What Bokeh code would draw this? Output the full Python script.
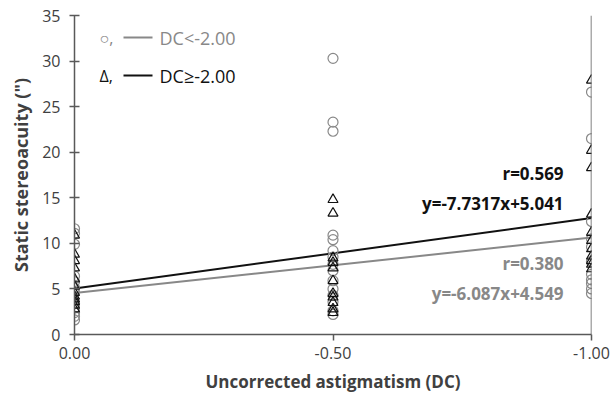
from bokeh.plotting import figure
from bokeh.models import Range1d, FixedTicker, Label, Span, BoxAnnotation
from bokeh.embed import file_html
from bokeh.resources import INLINE

# ---- data ----
x_positions = [0.0, -0.5, -1.0]
x_tick_labels = ["0.00", "-0.50", "-1.00"]
y_ticks = [0, 5, 10, 15, 20, 25, 30, 35]

# DC < -2.00 (circles)
low_at_000 = [11.6, 11.1, 9.9, 6.4, 5.8, 5.1, 4.6, 3.4, 2.9, 2.4, 2.0, 1.6]
low_at_050 = [30.3, 23.3, 22.3, 10.9, 10.4, 9.2, 8.5, 7.7, 7.0, 5.9, 5.0, 4.3, 3.6, 2.6, 2.2]
low_at_100 = [26.6, 21.5, 12.4, 10.5, 9.6, 8.0, 6.6, 6.0, 5.6, 5.0, 4.5]

# DC >= -2.00 (triangles)
high_at_000 = [10.9, 8.8, 8.1, 7.3, 6.1, 5.3, 4.6, 4.2, 3.9, 3.6, 3.2, 2.8]
high_at_050 = [14.8, 13.3, 8.4, 7.9, 7.3, 5.9, 4.5, 4.1, 3.5, 2.8, 2.4]
high_at_100 = [27.9, 20.2, 18.3, 13.2, 11.2, 10.3, 9.4, 8.6, 8.1, 7.7, 7.2]

low_slope, low_intercept, low_r = -6.087, 4.549, 0.380
high_slope, high_intercept, high_r = -7.7317, 5.041, 0.569

GRAY = "#888888"
BLACK = "#111111"
AXIS = "#595959"
FONT = "Open Sans"

low_x = [x_positions[0]] * len(low_at_000) + [x_positions[1]] * len(low_at_050) + [x_positions[2]] * len(low_at_100)
low_y = low_at_000 + low_at_050 + low_at_100
high_x = [x_positions[0]] * len(high_at_000) + [x_positions[1]] * len(high_at_050) + [x_positions[2]] * len(high_at_100)
high_y = high_at_000 + high_at_050 + high_at_100

line_x = [x_positions[0], x_positions[-1]]
low_line_y = [low_slope * v + low_intercept for v in line_x]
high_line_y = [high_slope * v + high_intercept for v in line_x]

p = figure(width=613, height=398, output_backend="svg", toolbar_location=None,
           x_range=Range1d(0, -1), y_range=Range1d(0, 35),
           min_border_left=74, min_border_right=22, min_border_top=15, min_border_bottom=64)
p.outline_line_color = None
p.xgrid.visible = False
p.ygrid.visible = False
p.background_fill_color = "white"

p.line(line_x, low_line_y, line_color=GRAY, line_width=2)
p.line(line_x, high_line_y, line_color=BLACK, line_width=2)

p.scatter(low_x, low_y, marker="circle", size=10, fill_color=None, line_color=GRAY, line_width=1.2)
p.scatter(high_x, high_y, marker="triangle", size=10, fill_color=None, line_color=BLACK, line_width=1.2)

p.add_layout(Span(location=-1.0, dimension="height", line_color=AXIS, line_width=1.5))

# axes
p.xaxis.ticker = FixedTicker(ticks=x_positions)
p.xaxis.major_label_overrides = {x_positions[i]: x_tick_labels[i] for i in range(3)}
p.yaxis.ticker = FixedTicker(ticks=y_ticks)
p.xaxis.minor_tick_line_color = None
p.yaxis.minor_tick_line_color = None
for ax in (p.xaxis, p.yaxis):
    ax.axis_line_color = AXIS
    ax.axis_line_width = 1.5
    ax.major_tick_line_color = AXIS
    ax.major_tick_line_width = 1.5
    ax.major_label_text_font = FONT
    ax.major_label_text_font_size = "16px"
    ax.major_label_text_color = "#404040"
    ax.axis_label_text_font = FONT
    ax.axis_label_text_font_style = "bold"
    ax.axis_label_text_color = "#404040"
p.xaxis.axis_label_text_font_size = "17px"
p.yaxis.axis_label_text_font_size = "18px"
p.yaxis.major_tick_in = 5
p.yaxis.major_tick_out = 5
p.xaxis.major_tick_in = 0
p.xaxis.major_tick_out = 6
p.yaxis.major_label_standoff = 9
p.xaxis.major_label_standoff = 6
p.xaxis.axis_label = "Uncorrected astigmatism (DC)"
p.yaxis.axis_label = 'Static stereoacuity (")'
p.xaxis.axis_label_standoff = 8
p.yaxis.axis_label_standoff = 6

# regression annotations
ann_x = -0.946
SZ = "17px"
p.add_layout(Label(x=ann_x, y=17.7, text="r=%.3f" % high_r, text_align="right", text_baseline="middle",
                   text_font=FONT, text_font_size=SZ, text_font_style="bold", text_color=BLACK))
p.add_layout(Label(x=ann_x, y=14.4, text="y=%.4fx+%.3f" % (high_slope, high_intercept), text_align="right",
                   text_baseline="middle", text_font=FONT, text_font_size=SZ, text_font_style="bold",
                   text_color=BLACK))
p.add_layout(Label(x=ann_x, y=7.8, text="r=%.3f" % low_r, text_align="right", text_baseline="middle",
                   text_font=FONT, text_font_size=SZ, text_font_style="bold", text_color=GRAY))
p.add_layout(Label(x=ann_x, y=4.5, text="y=%.3fx+%.3f" % (low_slope, low_intercept), text_align="right",
                   text_baseline="middle", text_font=FONT, text_font_size=SZ, text_font_style="bold",
                   text_color=GRAY))

# legend (manual, screen units relative to the plot frame)
for sym, txt, col, ys in [("○,", "DC<-2.00", GRAY, 297), ("Δ,", "DC≥-2.00", BLACK, 259)]:
    p.add_layout(Label(x=25, y=ys, x_units="screen", y_units="screen", text=sym, text_baseline="middle",
                       text_font=FONT, text_font_size="16px", text_color=col))
    p.add_layout(BoxAnnotation(left=49, right=78, bottom=ys - 1, top=ys + 1,
                               left_units="screen", right_units="screen",
                               bottom_units="screen", top_units="screen",
                               fill_color=col, fill_alpha=1, line_alpha=0))
    p.add_layout(Label(x=85, y=ys, x_units="screen", y_units="screen", text=txt, text_baseline="middle",
                       text_font=FONT, text_font_size="18px", text_color=col))

open("out.html", "w").write(file_html(p, INLINE))
